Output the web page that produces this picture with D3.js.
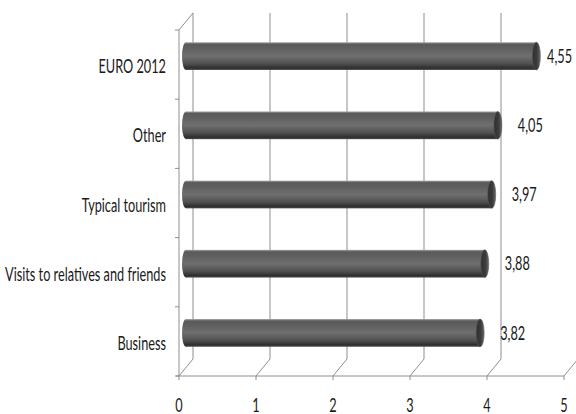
<!DOCTYPE html>
<html>
<head>
<meta charset="utf-8">
<script src="https://cdn.jsdelivr.net/npm/d3@7"></script>
<style>
  html, body { margin: 0; padding: 0; background: #fff; }
  svg { display: block; }
  text { font-family: "Lato", "Liberation Sans Narrow", "DejaVu Sans Condensed", sans-serif; fill: #1a1a1a; }
</style>
</head>
<body>
<svg id="chart" width="576" height="414"></svg>
<script>
// ---- data ----
const categories = ["EURO 2012", "Other", "Typical tourism", "Visits to relatives and friends", "Business"];
const values = [4.55, 4.05, 3.97, 3.88, 3.82];
const valueLabels = ["4,55", "4,05", "3,97", "3,88", "3,82"];
const xTicks = [0, 1, 2, 3, 4, 5];

// ---- layout ----
const W = 576, H = 414;
const depthX = 14, depthY = -17;       // 3D depth offset (front -> back)
const fontSize = 19, squeeze = 0.67;   // horizontally condensed text
const gridColor = "#8e8e8e";

const svg = d3.select("#chart");
svg.append("rect").attr("width", W).attr("height", H).attr("fill", "#fff");

const x = d3.scaleLinear().domain([0, 5]).range([179, 564]);
const y = d3.scaleBand().domain(categories).range([30, 376]).paddingInner(0).paddingOuter(0);
const yBottom = y.range()[1], yTop = y.range()[0];

const defs = svg.append("defs");
const body = defs.append("linearGradient").attr("id", "cyl").attr("x1", 0).attr("y1", 0).attr("x2", 0).attr("y2", 1);
[[0, "#a2a2a2"], [0.07, "#5a5a5a"], [0.22, "#5f5f5f"], [0.5, "#6f6f6f"], [0.78, "#4f4f4f"], [0.93, "#2e2e2e"], [1, "#4a4a4a"]]
  .forEach(([o, c]) => body.append("stop").attr("offset", o).attr("stop-color", c));
const cap = defs.append("linearGradient").attr("id", "cap").attr("x1", 0).attr("y1", 0).attr("x2", 1).attr("y2", 0);
[[0, "#2f2f2f"], [0.6, "#3c3c3c"], [1, "#6a6a6a"]]
  .forEach(([o, c]) => cap.append("stop").attr("offset", o).attr("stop-color", c));

const g = svg.append("g");

// back wall vertical gridlines
g.selectAll("line.grid").data(xTicks).join("line").attr("class", "grid")
  .attr("x1", d => x(d) + depthX).attr("x2", d => x(d) + depthX)
  .attr("y1", yTop + depthY).attr("y2", yBottom + depthY)
  .attr("stroke", gridColor).attr("stroke-width", 1);

// floor diagonals + x ticks
g.selectAll("line.floor").data(xTicks).join("line").attr("class", "floor")
  .attr("x1", d => x(d)).attr("y1", yBottom)
  .attr("x2", d => x(d) + depthX).attr("y2", yBottom + depthY)
  .attr("stroke", gridColor);
g.selectAll("line.xtick").data(xTicks).join("line").attr("class", "xtick")
  .attr("x1", d => x(d)).attr("x2", d => x(d))
  .attr("y1", yBottom).attr("y2", yBottom + 4)
  .attr("stroke", gridColor);
// front floor edge
g.append("line").attr("x1", x(0) - 3).attr("x2", x(5)).attr("y1", yBottom).attr("y2", yBottom).attr("stroke", gridColor);

// left wall
g.append("line").attr("x1", x(0)).attr("x2", x(0)).attr("y1", yTop).attr("y2", yBottom).attr("stroke", gridColor);
g.append("line").attr("x1", x(0)).attr("y1", yTop).attr("x2", x(0) + depthX).attr("y2", yTop + depthY).attr("stroke", gridColor);
const catBounds = d3.range(categories.length + 1).map(i => yTop + i * y.step());
g.selectAll("line.ytick").data(catBounds).join("line").attr("class", "ytick")
  .attr("x1", x(0) - 4).attr("x2", x(0)).attr("y1", d => d).attr("y2", d => d)
  .attr("stroke", gridColor);

// bars (cylinders at mid-depth)
const barH = y.bandwidth() * 0.4, capRx = 4;
const bars = g.selectAll("g.bar").data(categories.map((c, i) => ({ c, v: values[i], label: valueLabels[i] })))
  .join("g").attr("class", "bar");
const bx0 = x(0) + depthX / 2;
const bx1 = d => x(d.v) + depthX / 2;
const bcy = d => y(d.c) + y.bandwidth() / 2 + depthY / 2;
bars.append("ellipse").attr("cx", bx0).attr("cy", bcy).attr("rx", capRx).attr("ry", barH / 2).attr("fill", "url(#cyl)");
bars.append("rect").attr("x", bx0).attr("y", d => bcy(d) - barH / 2).attr("width", d => bx1(d) - bx0).attr("height", barH).attr("fill", "url(#cyl)");
bars.append("ellipse").attr("cx", bx1).attr("cy", bcy).attr("rx", capRx).attr("ry", barH / 2).attr("fill", "url(#cap)")
  .attr("stroke", "#555").attr("stroke-width", 0.6);

// value labels (kept inside the chart's right edge)
bars.append("text")
  .attr("transform", d => `translate(${Math.min(bx1(d) + 20, W - 29)},${bcy(d)}) scale(${squeeze},1)`)
  .attr("dy", "0.35em").attr("font-size", fontSize).text(d => d.label);

// category labels
g.selectAll("text.cat").data(categories).join("text").attr("class", "cat")
  .attr("transform", d => `translate(166,${y(d) + y.bandwidth() / 2 + 2}) scale(${squeeze},1)`)
  .attr("text-anchor", "end").attr("dy", "0.35em").attr("font-size", fontSize).text(d => d);

// x tick labels
g.selectAll("text.xl").data(xTicks).join("text").attr("class", "xl")
  .attr("transform", d => `translate(${x(d)},405) scale(${squeeze},1)`)
  .attr("text-anchor", "middle").attr("dy", "0.35em").attr("font-size", fontSize).text(d => d);
</script>
</body>
</html>
